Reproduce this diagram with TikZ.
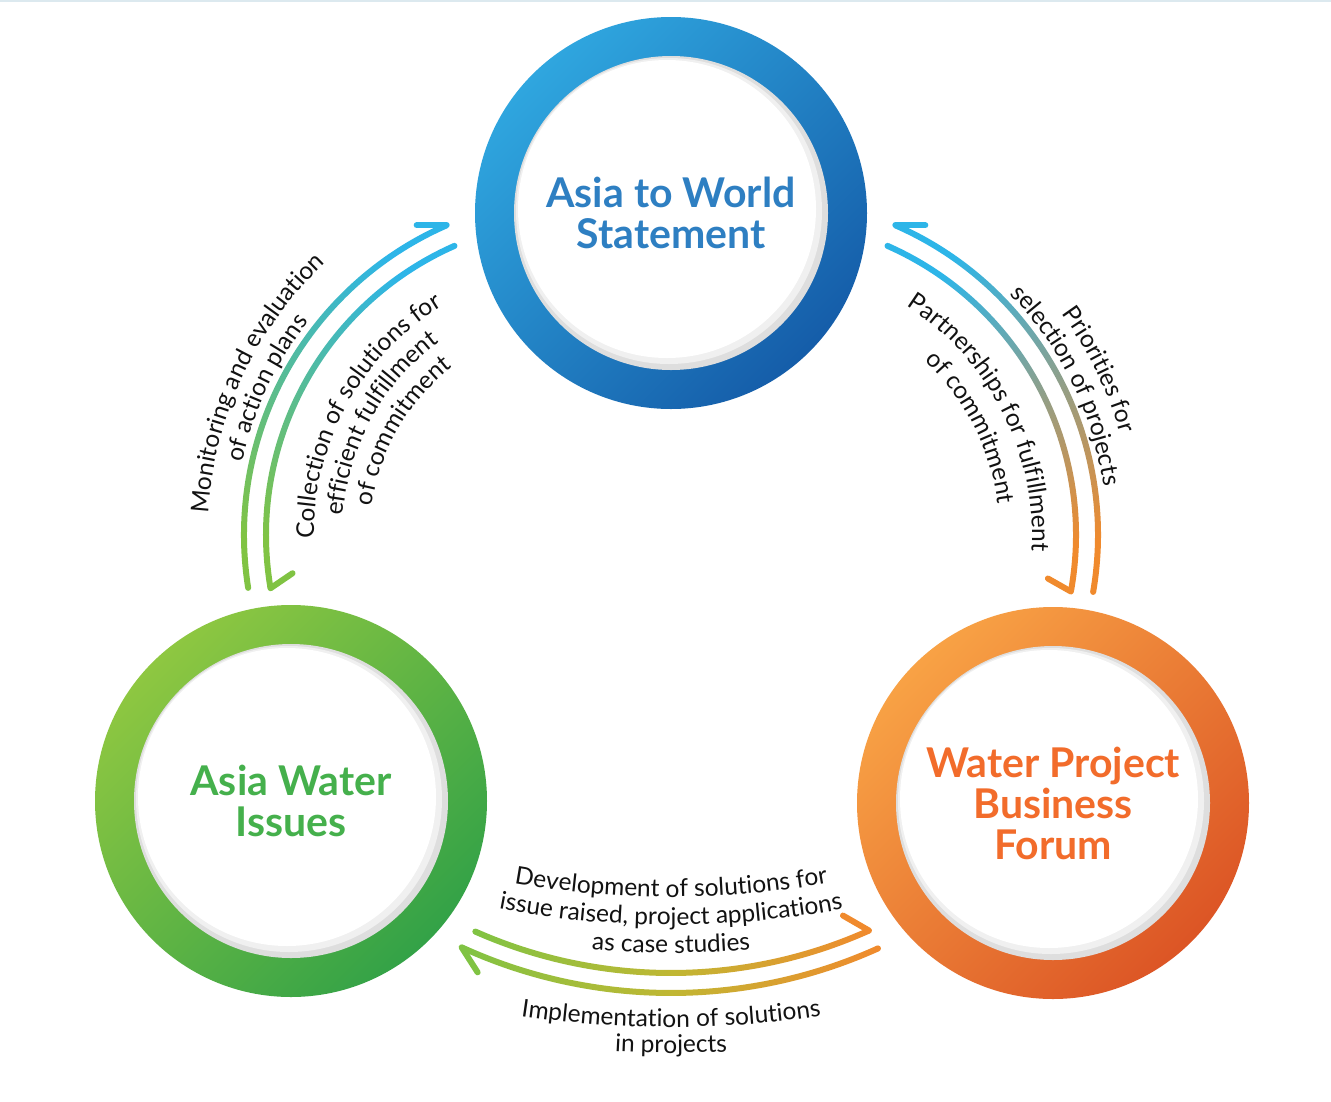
\documentclass[tikz,border=0pt]{standalone}
\usepackage{fontspec}
\setmainfont{Lato}
\usetikzlibrary{decorations.text}
\definecolor{blueL}{HTML}{2FA6DF}
\definecolor{blueD}{HTML}{155DA9}
\definecolor{greenL}{HTML}{8EC741}
\definecolor{greenD}{HTML}{33A247}
\definecolor{orangeL}{HTML}{F8A245}
\definecolor{orangeD}{HTML}{DC5525}
\definecolor{titleblue}{HTML}{2E7FC2}
\definecolor{titlegreen}{HTML}{45B04C}
\definecolor{titleorange}{HTML}{F26C2B}
\definecolor{arcblue}{HTML}{2DB5E8}
\definecolor{arcgreen}{HTML}{80C343}
\definecolor{arcorange}{HTML}{F08A2D}
\definecolor{arcolive}{HTML}{C0B733}
\definecolor{topline}{HTML}{DCE9EF}
\definecolor{ink}{HTML}{121212}
\newcommand\titlefont{\fontsize{41}{41}\selectfont\bfseries}
\newcommand\lblfont{\fontsize{24.5}{28}\selectfont}
% #1 centre, #2 outer radius, #3 inner radius, #4 start angle, #5 end angle, #6 shading options
\newcommand\bandarc[6]{%
  \shade[#6] ([shift={(#4:#2pt)}]#1) arc[start angle=#4, end angle=#5, radius=#2pt]
    -- ([shift={(#5:#3pt)}]#1) arc[start angle=#5, end angle=#4, radius=#3pt] -- cycle;}
\begin{document}
\begin{tikzpicture}[x=1pt,y=1pt,
  ringnode/.style={circle, minimum size=392pt, inner sep=0pt, align=center, font=\titlefont,
    path picture={
      \fill[black!13] (path picture bounding box.center) circle[radius=157pt];
      \fill[black!6] ([shift={(-2pt,2pt)}]path picture bounding box.center) circle[radius=153pt];
      \fill[white] ([shift={(-4pt,4pt)}]path picture bounding box.center) circle[radius=149pt];
    }},
  barb/.style={line width=6pt, line cap=round},
  lbl/.style={decorate, decoration={text along path, text align=center, text color=ink, text={|\lblfont|#1}}}
]
\fill[white] (0,0) rectangle (1331,-1101);
\useasboundingbox (0,0) rectangle (1331,-1101);
\draw[topline, line width=2.5pt] (0,-1) -- (1331,-1);

% circles
\node[ringnode, top color=blueL, bottom color=blueD, shading angle=45, text=titleblue] (top) at (671,-213) {Asia to World\\Statement};
\node[ringnode, top color=greenL, bottom color=greenD, shading angle=45, text=titlegreen] (left) at (291,-801) {Asia Water\\Issues};
\node[ringnode, top color=orangeL, bottom color=orangeD, shading angle=45, text=titleorange] (right) at (1053,-803) {Water Project\\Business\\Forum};

% arc centres
\coordinate (Lc) at (582,-535);
\coordinate (Rc) at (760,-535);
\coordinate (Bc) at (671,-490);
\coordinate (Bt) at (671,0);

% end points
\coordinate (LOs) at ([shift={(189:338pt)}]Lc);
\coordinate (LOt) at ([shift={(113.6:338pt)}]Lc);
\coordinate (LOb) at ([shift={(-30,0)}]LOt);
\coordinate (LIs) at ([shift={(113.8:316pt)}]Lc);
\coordinate (LIt) at ([shift={(189.7:316pt)}]Lc);
\coordinate (LIb) at ([shift={(22,15)}]LIt);
\coordinate (ROs) at ([shift={(-9.7:338pt)}]Rc);
\coordinate (ROt) at ([shift={(66.4:338pt)}]Rc);
\coordinate (ROb) at ([shift={(30,0)}]ROt);
\coordinate (RIs) at ([shift={(66.2:316pt)}]Rc);
\coordinate (RIt) at ([shift={(-10.3:316pt)}]Rc);
\coordinate (RIb) at ([shift={(-23,13)}]RIt);
\coordinate (BUs) at ([shift={(246.1:483pt)}]Bc);
\coordinate (BUt) at ([shift={(294.2:483pt)}]Bc);
\coordinate (BUb) at ([shift={(-26,15)}]BUt);
\coordinate (BLs) at ([shift={(294.3:503pt)}]Bc);
\coordinate (BLt) at ([shift={(245.4:503pt)}]Bc);
\coordinate (BLb) at ([shift={(16,-25)}]BLt);

% left pair
\bandarc{Lc}{341}{335}{189}{113.6}{top color=arcblue, bottom color=arcgreen, shading angle=-29}
\bandarc{Lc}{319}{313}{113.8}{189.7}{top color=arcblue, bottom color=arcgreen, shading angle=-29}
\fill[arcgreen] (LOs) circle[radius=3pt];
\fill[arcblue] (LIs) circle[radius=3pt];
\draw[barb, arcblue] (LOt) -- (LOb);
\draw[barb, arcgreen] (LIt) -- (LIb);

% right pair
\bandarc{Rc}{341}{335}{-9.7}{66.4}{top color=arcblue, bottom color=arcorange, shading angle=28}
\bandarc{Rc}{319}{313}{66.2}{-10.3}{top color=arcblue, bottom color=arcorange, shading angle=28}
\fill[arcorange] (ROs) circle[radius=3pt];
\fill[arcblue] (RIs) circle[radius=3pt];
\draw[barb, arcblue] (ROt) -- (ROb);
\draw[barb, arcorange] (RIt) -- (RIb);

% bottom pair
\bandarc{Bc}{486}{480}{246.1}{294.2}{top color=arcgreen, bottom color=arcorange, middle color=arcolive, shading angle=90}
\bandarc{Bc}{506}{500}{294.3}{245.4}{top color=arcgreen, bottom color=arcorange, middle color=arcolive, shading angle=90}
\fill[arcgreen] (BUs) circle[radius=3pt];
\fill[arcorange] (BLs) circle[radius=3pt];
\draw[barb, arcorange] (BUt) -- (BUb);
\draw[barb, arcgreen] (BLt) -- (BLb);

% labels left
\path[lbl={Monitoring and evaluation}] ([shift={(205:374pt)}]Lc) arc[start angle=205, end angle=105, radius=374pt];
\path[lbl={of action plans}] ([shift={(205:347pt)}]Lc) arc[start angle=205, end angle=105, radius=347pt];
\path[lbl={Collection of solutions for}] ([shift={(206:268pt)}]Lc) arc[start angle=206, end angle=96, radius=268pt];
\path[lbl={efficient fulfillment}] ([shift={(206:240pt)}]Lc) arc[start angle=206, end angle=96, radius=240pt];
\path[lbl={of commitment}] ([shift={(205:212pt)}]Lc) arc[start angle=205, end angle=95, radius=212pt];

% labels right
\path[lbl={Priorities for}] ([shift={(76:374pt)}]Rc) arc[start angle=76, end angle=-24, radius=374pt];
\path[lbl={selection of projects}] ([shift={(76:347pt)}]Rc) arc[start angle=76, end angle=-24, radius=347pt];
\path[lbl={Partnerships for fulfillment}] ([shift={(82:272pt)}]Rc) arc[start angle=82, end angle=-28, radius=272pt];
\path[lbl={of commitment}] ([shift={(82:240pt)}]Rc) arc[start angle=82, end angle=-28, radius=240pt];

% labels bottom
\path[lbl={Development of solutions for}] ([shift={(250:897pt)}]Bt) arc[start angle=250, end angle=290, radius=897pt];
\path[lbl={issue raised, project applications}] ([shift={(250:925pt)}]Bt) arc[start angle=250, end angle=290, radius=925pt];
\path[lbl={as case studies}] ([shift={(250:953pt)}]Bt) arc[start angle=250, end angle=290, radius=953pt];
\path[lbl={Implementation of solutions}] ([shift={(250:1027pt)}]Bt) arc[start angle=250, end angle=290, radius=1027pt];
\path[lbl={in projects}] ([shift={(250:1053pt)}]Bt) arc[start angle=250, end angle=290, radius=1053pt];
\end{tikzpicture}
\end{document}
